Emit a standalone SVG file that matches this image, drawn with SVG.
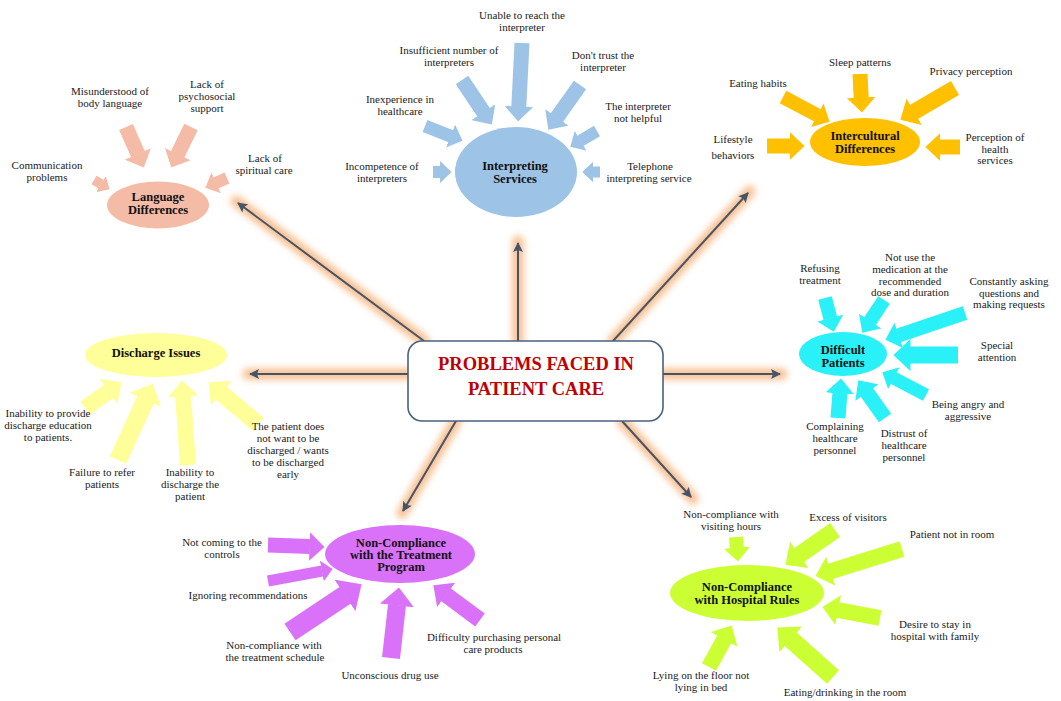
<svg xmlns="http://www.w3.org/2000/svg" width="1061" height="701" viewBox="0 0 1061 701">
<style>
text{font-family:"Liberation Serif","Times New Roman",serif;fill:#1a1a1a}
.lb{font-size:11px;text-anchor:middle}
.tt{font-size:12.5px;font-weight:bold;text-anchor:middle;fill:#111}
.ba{fill:none;stroke-linecap:butt}
.salmon{stroke:#F4BCA6;marker-end:url(#m-salmon)}
.blue{stroke:#9DC3E6;marker-end:url(#m-blue)}
.gold{stroke:#FFC000;marker-end:url(#m-gold)}
.cyan{stroke:#2AF0F8;marker-end:url(#m-cyan)}
.yell{stroke:#FFFF99;marker-end:url(#m-yell)}
.viol{stroke:#D972F9;marker-end:url(#m-viol)}
.lime{stroke:#CCFF33;marker-end:url(#m-lime)}
.glow{stroke:#F5A868;stroke-width:11;stroke-linecap:round;opacity:0.75}
.con{stroke:#44546A;stroke-width:2;marker-end:url(#ch)}
.bm{overflow:visible}
</style>
<defs>
<marker id="m-salmon" viewBox="0 0 10 10" preserveAspectRatio="none" markerUnits="strokeWidth" markerWidth="1" markerHeight="1.9" refX="0.3" refY="5" orient="auto"><path d="M0,0 L10,5 L0,10 z" fill="#F4BCA6"/></marker>
<marker id="m-blue" viewBox="0 0 10 10" preserveAspectRatio="none" markerUnits="strokeWidth" markerWidth="1" markerHeight="1.9" refX="0.3" refY="5" orient="auto"><path d="M0,0 L10,5 L0,10 z" fill="#9DC3E6"/></marker>
<marker id="m-gold" viewBox="0 0 10 10" preserveAspectRatio="none" markerUnits="strokeWidth" markerWidth="1" markerHeight="1.9" refX="0.3" refY="5" orient="auto"><path d="M0,0 L10,5 L0,10 z" fill="#FFC000"/></marker>
<marker id="m-cyan" viewBox="0 0 10 10" preserveAspectRatio="none" markerUnits="strokeWidth" markerWidth="1" markerHeight="1.9" refX="0.3" refY="5" orient="auto"><path d="M0,0 L10,5 L0,10 z" fill="#2AF0F8"/></marker>
<marker id="m-yell" viewBox="0 0 10 10" preserveAspectRatio="none" markerUnits="strokeWidth" markerWidth="1" markerHeight="1.9" refX="0.3" refY="5" orient="auto"><path d="M0,0 L10,5 L0,10 z" fill="#FFFF99"/></marker>
<marker id="m-viol" viewBox="0 0 10 10" preserveAspectRatio="none" markerUnits="strokeWidth" markerWidth="1" markerHeight="1.9" refX="0.3" refY="5" orient="auto"><path d="M0,0 L10,5 L0,10 z" fill="#D972F9"/></marker>
<marker id="m-lime" viewBox="0 0 10 10" preserveAspectRatio="none" markerUnits="strokeWidth" markerWidth="1" markerHeight="1.9" refX="0.3" refY="5" orient="auto"><path d="M0,0 L10,5 L0,10 z" fill="#CCFF33"/></marker>
<marker id="ch" viewBox="0 0 10 10" markerUnits="userSpaceOnUse" markerWidth="11" markerHeight="10" refX="9" refY="5" orient="auto">
<path d="M0,0 L10,5 L0,10 L2,5 z" fill="#44546A"/>
</marker>
<filter id="blur" filterUnits="userSpaceOnUse" x="0" y="0" width="1061" height="701">
<feGaussianBlur stdDeviation="3.5"/>
</filter>
</defs>
<rect width="1061" height="701" fill="#fff"/>

<g id="connectors">
<g filter="url(#blur)" class="glow">
<line x1="424" y1="341" x2="236" y2="201"/>
<line x1="518" y1="341" x2="518" y2="241"/>
<line x1="613" y1="341" x2="750" y2="191"/>
<line x1="663" y1="374" x2="782" y2="374"/>
<line x1="408" y1="374" x2="248" y2="374"/>
<line x1="456" y1="421" x2="402" y2="513"/>
<line x1="622" y1="421" x2="693" y2="499"/>
</g>
<line class="con" x1="424" y1="341" x2="238" y2="203"/>
<line class="con" x1="518" y1="341" x2="518" y2="243"/>
<line class="con" x1="613" y1="341" x2="748" y2="193"/>
<line class="con" x1="663" y1="374" x2="780" y2="374"/>
<line class="con" x1="408" y1="374" x2="250" y2="374"/>
<line class="con" x1="456" y1="421" x2="403" y2="511"/>
<line class="con" x1="622" y1="421" x2="691" y2="497"/>
</g>

<g id="center">
<rect x="408" y="341" width="255" height="80" rx="14" fill="#fff" stroke="#4A6080" stroke-width="1.6"/>
<text x="536" y="370" text-anchor="middle" style="font-size:18.5px;font-weight:bold;fill:#C00000">PROBLEMS FACED IN</text>
<text x="536" y="395" text-anchor="middle" style="font-size:18.5px;font-weight:bold;fill:#C00000">PATIENT CARE</text>
</g>

<g id="language">
<line class="ba salmon" stroke-width="10" x1="94" y1="180" x2="101.2" y2="184.3"/>
<line class="ba salmon" stroke-width="15" x1="126" y1="127" x2="138" y2="154.3"/>
<line class="ba salmon" stroke-width="15" x1="191" y1="127" x2="177.6" y2="154.5"/>
<line class="ba salmon" stroke-width="12" x1="227" y1="178" x2="215.9" y2="183"/>
<ellipse cx="158" cy="205" rx="51" ry="23.5" fill="#F4BCA6"/>
<text class="tt" x="158" y="201">Language</text>
<text class="tt" x="158" y="214">Differences</text>
<text class="lb" x="110" y="95">Misunderstood of</text>
<text class="lb" x="110" y="107">body language</text>
<text class="lb" x="207" y="88">Lack of</text>
<text class="lb" x="207" y="100">psychosocial</text>
<text class="lb" x="207" y="112">support</text>
<text class="lb" x="47" y="169">Communication</text>
<text class="lb" x="47" y="181">problems</text>
<text class="lb" x="265" y="162">Lack of</text>
<text class="lb" x="264" y="174">spiritual care</text>
</g>

<g id="interpreting">
<line class="ba blue" stroke-width="15" x1="522" y1="43" x2="518.8" y2="107"/>
<line class="ba blue" stroke-width="15" x1="462" y1="80" x2="483.7" y2="112.5"/>
<line class="ba blue" stroke-width="15" x1="580" y1="85" x2="556.7" y2="117.8"/>
<line class="ba blue" stroke-width="13" x1="425" y1="126" x2="450.9" y2="136.2"/>
<line class="ba blue" stroke-width="12" x1="597" y1="131" x2="580.3" y2="140.9"/>
<line class="ba blue" stroke-width="12" x1="433" y1="172" x2="440" y2="172"/>
<line class="ba blue" stroke-width="11" x1="600" y1="172" x2="593" y2="172"/>
<ellipse cx="516" cy="172" rx="61" ry="45" fill="#9DC3E6"/>
<text class="tt" x="515" y="170">Interpreting</text>
<text class="tt" x="515" y="183">Services</text>
<text class="lb" x="522" y="19">Unable to reach the</text>
<text class="lb" x="522" y="31">interpreter</text>
<text class="lb" x="449" y="54">Insufficient number of</text>
<text class="lb" x="449" y="66">interpreters</text>
<text class="lb" x="603" y="59">Don't trust the</text>
<text class="lb" x="603" y="71">interpreter</text>
<text class="lb" x="400" y="103">Inexperience in</text>
<text class="lb" x="400" y="115">healthcare</text>
<text class="lb" x="638" y="110">The interpreter</text>
<text class="lb" x="638" y="122">not helpful</text>
<text class="lb" x="382" y="170">Incompetence of</text>
<text class="lb" x="382" y="182">interpreters</text>
<text class="lb" x="650" y="170">Telephone</text>
<text class="lb" x="649" y="182">interpreting service</text>
</g>

<g id="intercultural">
<line class="ba gold" stroke-width="14" x1="783" y1="97" x2="817.6" y2="115.4"/>
<line class="ba gold" stroke-width="15" x1="860" y1="74" x2="861.2" y2="98"/>
<line class="ba gold" stroke-width="16" x1="955" y1="88" x2="913.8" y2="112"/>
<line class="ba gold" stroke-width="15" x1="767" y1="146" x2="790" y2="146"/>
<line class="ba gold" stroke-width="15" x1="960" y1="147" x2="940" y2="147"/>
<ellipse cx="865" cy="142" rx="55" ry="24" fill="#FFC000"/>
<text class="tt" x="865" y="140">Intercultural</text>
<text class="tt" x="865" y="153">Differences</text>
<text class="lb" x="758" y="87">Eating habits</text>
<text class="lb" x="860" y="66">Sleep patterns</text>
<text class="lb" x="971" y="75">Privacy perception</text>
<text class="lb" x="733" y="143">Lifestyle</text>
<text class="lb" x="733" y="159">behaviors</text>
<text class="lb" x="995" y="141">Perception of</text>
<text class="lb" x="995" y="153">health</text>
<text class="lb" x="995" y="164">services</text>
</g>

<g id="difficult">
<line class="ba cyan" stroke-width="14" x1="825" y1="298" x2="830.4" y2="318.5"/>
<line class="ba cyan" stroke-width="14" x1="884" y1="300" x2="869.8" y2="321.4"/>
<line class="ba cyan" stroke-width="14" x1="965" y1="313" x2="898.3" y2="335.5"/>
<line class="ba cyan" stroke-width="17" x1="958" y1="355" x2="910" y2="355"/>
<line class="ba cyan" stroke-width="13" x1="926" y1="395" x2="893.5" y2="378"/>
<line class="ba cyan" stroke-width="15" x1="885" y1="418" x2="866.7" y2="392.2"/>
<line class="ba cyan" stroke-width="15" x1="838" y1="418" x2="839.9" y2="393"/>
<ellipse cx="843" cy="354" rx="44" ry="22" fill="#2AF0F8"/>
<text class="tt" x="843" y="354">Difficult</text>
<text class="tt" x="843" y="367">Patients</text>
<text class="lb" x="820" y="272">Refusing</text>
<text class="lb" x="820" y="284">treatment</text>
<text class="lb" x="910" y="261">Not use the</text>
<text class="lb" x="910" y="273">medication at the</text>
<text class="lb" x="910" y="285">recommended</text>
<text class="lb" x="910" y="296">dose and duration</text>
<text class="lb" x="1009" y="285">Constantly asking</text>
<text class="lb" x="1009" y="297">questions and</text>
<text class="lb" x="1009" y="308">making requests</text>
<text class="lb" x="997" y="349">Special</text>
<text class="lb" x="997" y="361">attention</text>
<text class="lb" x="968" y="408">Being angry and</text>
<text class="lb" x="968" y="420">aggressive</text>
<text class="lb" x="835" y="430">Complaining</text>
<text class="lb" x="835" y="442">healthcare</text>
<text class="lb" x="835" y="454">personnel</text>
<text class="lb" x="904" y="437">Distrust of</text>
<text class="lb" x="904" y="449">healthcare</text>
<text class="lb" x="904" y="461">personnel</text>
</g>

<g id="discharge">
<line class="ba yell" stroke-width="16" x1="85" y1="408" x2="108.9" y2="391.2"/>
<line class="ba yell" stroke-width="18" x1="118" y1="460" x2="145.6" y2="399.4"/>
<line class="ba yell" stroke-width="16" x1="188" y1="465" x2="183.1" y2="396"/>
<line class="ba yell" stroke-width="17" x1="258" y1="424" x2="221" y2="392.9"/>
<ellipse cx="156" cy="355" rx="71" ry="22" fill="#FFFF99"/>
<text class="tt" x="156" y="357">Discharge Issues</text>
<text class="lb" x="48" y="417">Inability to provide</text>
<text class="lb" x="48" y="429">discharge education</text>
<text class="lb" x="48" y="441">to patients.</text>
<text class="lb" x="102" y="476">Failure to refer</text>
<text class="lb" x="102" y="488">patients</text>
<text class="lb" x="190" y="476">Inability to</text>
<text class="lb" x="190" y="488">discharge the</text>
<text class="lb" x="190" y="500">patient</text>
<text class="lb" x="288" y="430">The patient does</text>
<text class="lb" x="288" y="442">not want to be</text>
<text class="lb" x="288" y="454">discharged / wants</text>
<text class="lb" x="288" y="466">to be discharged</text>
<text class="lb" x="288" y="478">early</text>
</g>

<g id="treatment">
<line class="ba viol" stroke-width="15" x1="268" y1="545" x2="310" y2="546.5"/>
<line class="ba viol" stroke-width="11" x1="268" y1="581" x2="322.2" y2="571"/>
<line class="ba viol" stroke-width="20" x1="290" y1="632" x2="345.4" y2="595.1"/>
<line class="ba viol" stroke-width="18" x1="391" y1="658" x2="397" y2="604.9"/>
<line class="ba viol" stroke-width="16" x1="480" y1="620" x2="445.8" y2="594.6"/>
<ellipse cx="400" cy="554" rx="75" ry="29" fill="#D972F9"/>
<text class="tt" x="401" y="547">Non-Compliance</text>
<text class="tt" x="401" y="559">with the Treatment</text>
<text class="tt" x="401" y="571">Program</text>
<text class="lb" x="222" y="546">Not coming to the</text>
<text class="lb" x="222" y="558">controls</text>
<text class="lb" x="248" y="599">Ignoring recommendations</text>
<text class="lb" x="274" y="649">Non-compliance with</text>
<text class="lb" x="275" y="661">the treatment schedule</text>
<text class="lb" x="390" y="679">Unconscious drug use</text>
<text class="lb" x="494" y="641">Difficulty purchasing personal</text>
<text class="lb" x="493" y="653">care products</text>
</g>

<g id="hospital">
<line class="ba lime" stroke-width="14" x1="736" y1="537" x2="736.9" y2="548"/>
<line class="ba lime" stroke-width="17" x1="835" y1="530" x2="798.9" y2="555.2"/>
<line class="ba lime" stroke-width="16" x1="902" y1="549" x2="830.3" y2="571.3"/>
<line class="ba lime" stroke-width="16" x1="880" y1="618" x2="837.7" y2="610"/>
<line class="ba lime" stroke-width="18" x1="833" y1="677" x2="790.4" y2="639"/>
<line class="ba lime" stroke-width="16" x1="709" y1="667" x2="724.3" y2="639"/>
<ellipse cx="747" cy="593" rx="77" ry="28" fill="#CCFF33"/>
<text class="tt" x="747" y="591">Non-Compliance</text>
<text class="tt" x="747" y="604">with Hospital Rules</text>
<text class="lb" x="731" y="518">Non-compliance with</text>
<text class="lb" x="731" y="530">visiting hours</text>
<text class="lb" x="848" y="521">Excess of visitors</text>
<text class="lb" x="952" y="538">Patient not in room</text>
<text class="lb" x="935" y="628">Desire to stay in</text>
<text class="lb" x="935" y="640">hospital with family</text>
<text class="lb" x="701" y="679">Lying on the floor not</text>
<text class="lb" x="701" y="691">lying in bed</text>
<text class="lb" x="845" y="696">Eating/drinking in the room</text>
</g>
</svg>
